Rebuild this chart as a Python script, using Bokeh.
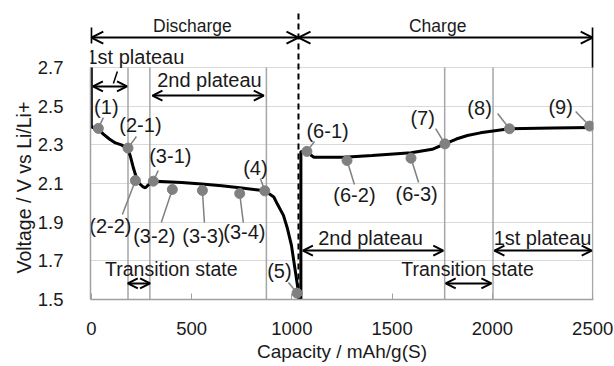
from bokeh.plotting import figure
from bokeh.models import Range1d, FixedTicker, Arrow, OpenHead, Title
from bokeh.core.properties import value
from bokeh.embed import file_html
from bokeh.resources import INLINE

# ---- data ----
dis_cap = [0, 0, 5, 35, 60, 90, 120, 150, 183, 195, 210, 225, 240, 258, 270, 282, 300, 320, 450, 550, 650,
           750, 865, 910, 927, 958, 978, 998, 1013, 1028, 1036]
dis_v = [2.70, 2.40, 2.39, 2.385, 2.355, 2.33, 2.31, 2.30, 2.28, 2.24, 2.18, 2.13, 2.10, 2.083, 2.078, 2.09,
         2.108, 2.112, 2.105, 2.097, 2.088, 2.077, 2.062, 2.03, 1.995, 1.935, 1.867, 1.78, 1.676, 1.572, 1.50]
chg_cap = [1045, 1045, 1075, 1110, 1260, 1400, 1595, 1700, 1763, 1820, 1875, 1940, 2003, 2085, 2300, 2500]
chg_v = [1.50, 2.265, 2.262, 2.236, 2.236, 2.245, 2.259, 2.277, 2.305, 2.33, 2.348, 2.362, 2.372, 2.383,
         2.387, 2.39]

pt_names = ["(1)", "(2-1)", "(2-2)", "(3-1)", "(3-2)", "(3-3)", "(3-4)", "(4)", "(5)",
            "(6-1)", "(6-2)", "(6-3)", "(7)", "(8)", "(9)"]
pt_cap = [35, 183, 220, 309, 404, 554, 740, 865, 1026, 1075, 1275, 1594, 1763, 2085, 2485]
pt_v = [2.385, 2.283, 2.115, 2.112, 2.069, 2.064, 2.048, 2.062, 1.533, 2.266, 2.219, 2.231, 2.305, 2.383, 2.397]

boundaries = [183, 292, 873, 1762, 2003, 2500]
switch_cap = 1033
y_ticks = [1.5, 1.7, 1.9, 2.1, 2.3, 2.5, 2.7]
x_ticks = [0, 500, 1000, 1500, 2000, 2500]

# ---- layout (label placement) ----
lab_x = [75, 245, 95, 394, 314, 559, 763, 818, 938, 1178, 1312, 1622, 1652, 1936, 2340]
lab_y = [2.498, 2.405, 1.878, 2.24, 1.831, 1.831, 1.847, 2.178, 1.645, 2.369, 2.038, 2.048, 2.441, 2.493, 2.498]
lead_x0 = [60, 225, 155, 334, 349, 564, 758, 843, 983, 1113, 1312, 1632, 1717, 2026, 2415]
lead_y0 = [2.441, 2.343, 1.94, 2.167, 1.898, 1.898, 1.898, 2.126, 1.588, 2.317, 2.095, 2.105, 2.384, 2.462, 2.472]

FONT = "Liberation Sans"
GREY = "#808080"
TXT = "#1a1a1a"

p = figure(width=614, height=366, x_range=Range1d(-4, 2504), y_range=Range1d(1.5, 3.0),
           output_backend="svg", toolbar_location=None,
           min_border_left=90, min_border_right=21, min_border_top=9, min_border_bottom=67)
p.outline_line_color = None
p.xgrid.visible = False
p.ygrid.ticker = FixedTicker(ticks=y_ticks)
p.ygrid.grid_line_color = "#d9d9d9"
p.ygrid.grid_line_width = 1

p.xaxis.ticker = FixedTicker(ticks=x_ticks)
p.xaxis.major_tick_in = 6
p.xaxis.major_tick_out = 0
p.xaxis.minor_tick_line_color = None
p.xaxis.major_tick_line_color = "#a0a0a0"
p.xaxis.axis_line_color = "#a0a0a0"
p.xaxis.axis_line_width = 1.5
p.xaxis.major_label_standoff = 22
p.xaxis.major_label_text_font = FONT
p.xaxis.major_label_text_font_size = "18.5px"
p.xaxis.major_label_text_color = TXT
p.xaxis.axis_label = "Capacity / mAh/g(S)"
p.xaxis.axis_label_text_font = FONT
p.xaxis.axis_label_text_font_size = "19px"
p.xaxis.axis_label_text_font_style = "normal"
p.xaxis.axis_label_text_color = TXT
p.xaxis.axis_label_standoff = 3

p.yaxis.ticker = FixedTicker(ticks=y_ticks)
p.yaxis.bounds = (1.5, 2.7)
p.yaxis.major_tick_in = 0
p.yaxis.major_tick_out = 0
p.yaxis.minor_tick_line_color = None
p.yaxis.axis_line_color = "#a0a0a0"
p.yaxis.axis_line_width = 1.5
p.yaxis.major_label_standoff = 27
p.yaxis.major_label_text_font = FONT
p.yaxis.major_label_text_font_size = "18.5px"
p.yaxis.major_label_text_color = TXT

ytitle = Title(text="Voltage / V vs Li/Li+", align="left", offset=26, standoff=0,
               text_font=FONT, text_font_size="19.5px", text_font_style="normal", text_color=TXT)
p.add_layout(ytitle, "left")

# boundaries
p.segment(x0=boundaries, y0=[y_ticks[0]] * len(boundaries), x1=boundaries, y1=[y_ticks[-1]] * len(boundaries),
          line_color="#a6a6a6", line_width=1.5)

# dashed discharge/charge switch line
p.segment(x0=[switch_cap], y0=[1.5], x1=[switch_cap], y1=[2.98], line_color="black", line_width=2, line_dash="6 4")

# curves
p.line(dis_cap, dis_v, line_color="black", line_width=3)
p.line(chg_cap, chg_v, line_color="black", line_width=3)

# leaders and markers
p.segment(x0=lead_x0, y0=lead_y0, x1=pt_cap, y1=pt_v, line_color=GREY, line_width=1.5)
p.scatter(pt_cap, pt_v, size=10, fill_color=GREY, line_color=GREY)
p.text(x=lab_x, y=lab_y, text=pt_names, text_font=value(FONT), text_font_size="20px",
       text_align="center", text_baseline="middle", text_color=TXT)

# Section arrows
def dbl_arrow(x0, x1, y, size=10):
    p.add_layout(Arrow(start=OpenHead(size=size, line_width=2, line_color="black"),
                       end=OpenHead(size=size, line_width=2, line_color="black"),
                       x_start=x0, y_start=y, x_end=x1, y_end=y, line_width=2, line_color="black"))

dbl_arrow(0, switch_cap, 2.855, 12)
dbl_arrow(switch_cap, 2500, 2.855, 12)
p.segment(x0=[0, 2500], y0=[2.907, 2.907], x1=[0, 2500], y1=[2.824, 2.70], line_color="black", line_width=2)

dbl_arrow(8, 178, 2.602)
dbl_arrow(305, 860, 2.555)
dbl_arrow(182, 293, 1.583)
dbl_arrow(1055, 1755, 1.753)
dbl_arrow(2010, 2495, 1.753)
dbl_arrow(1767, 1995, 1.583)
p.segment(x0=[130], y0=[2.679], x1=[110], y1=[2.617], line_color="black", line_width=1.5)

sec_txt = ["Discharge", "Charge"]
p.text(x=[504, 1727], y=[2.917, 2.917], text=sec_txt, text_font=value(FONT), text_font_size="17.5px",
       text_align="center", text_baseline="middle", text_color=TXT)
plat_txt = ["1st plateau", "2nd plateau", "2nd plateau", "1st plateau"]
p.text(x=[220, 589, 1392, 2250], y=[2.752, 2.633, 1.816, 1.816], text=plat_txt, text_font=value(FONT),
       text_font_size="20px", text_align="center", text_baseline="middle", text_color=TXT)
tr_txt = ["Transition state", "Transition state"]
p.text(x=[399, 1876], y=[1.66, 1.66], text=tr_txt, text_font=value(FONT), text_font_size="19.5px",
       text_align="center", text_baseline="middle", text_color=TXT)

open("out.html", "w").write(file_html(p, INLINE))
